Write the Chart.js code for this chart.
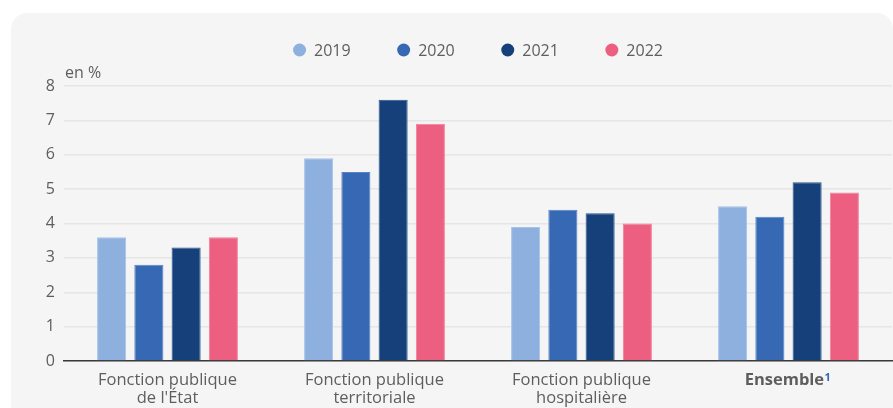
<!DOCTYPE html>
<html>
<head>
<meta charset="utf-8">
<script src="https://cdn.jsdelivr.net/npm/chart.js@4"></script>
<style>
  html, body { margin: 0; padding: 0; background: #ffffff; }
  #wrap { width: 893px; height: 408px; }
</style>
</head>
<body>
<div id="wrap"><canvas id="canvasTaux"></canvas></div>
<script>
// données (en %)
const categories = [
    ['Fonction publique', "de l'État"],
    ['Fonction publique', 'territoriale'],
    ['Fonction publique', 'hospitalière'],
    'Ensemble\u00B9'
];
const annees = ['2019', '2020', '2021', '2022'];
const valeurs2019 = [3.6, 5.9, 3.9, 4.5];
const valeurs2020 = [2.8, 5.5, 4.4, 4.2];
const valeurs2021 = [3.3, 7.6, 4.3, 5.2];
const valeurs2022 = [3.6, 6.9, 4.0, 4.9];
const yTicks = [0, 1, 2, 3, 4, 5, 6, 7, 8];

const couleurs = ['#8eb0df', '#3768b3', '#15407a', '#ec5f80'];
const bordures = ['#a6c2e8', '#5483c6', '#2a5590', '#f27f99'];
const police = "'Open Sans', 'Noto Sans', sans-serif";
const gris = '#5e5e5e';
const SUP = '\u00B9';
const ESPACE_NOTE = '\u2002';

// fond gris arrondi
const fondPanneau = {
    id: 'fondPanneau',
    beforeDraw(chart) {
        const c = chart.ctx;
        c.save();
        c.fillStyle = '#ffffff';
        c.fillRect(0, 0, chart.width, chart.height);
        c.fillStyle = '#f5f5f5';
        c.beginPath();
        c.roundRect(11, 13, chart.width - 11, chart.height + 40, 16);
        c.fill();
        c.restore();
    }
};

// légende à pastilles + "en %" + appel de note en bleu
const legendeEtUnite = {
    id: 'legendeEtUnite',
    afterDraw(chart) {
        const c = chart.ctx;
        const area = chart.chartArea;
        c.save();
        c.font = '16px ' + police;
        c.fillStyle = gris;
        c.textBaseline = 'alphabetic';
        c.fillText('en %', area.left + 1, 78);

        const items = chart.data.datasets.map(function (ds) {
            return { texte: ds.label, couleur: ds.backgroundColor, w: 13 + 8 + c.measureText(ds.label).width };
        });
        const espace = 46.5;
        let total = -espace;
        items.forEach(function (it) { total += it.w + espace; });
        let x = (area.left + area.right) / 2 - total / 2;
        const y = 50;
        items.forEach(function (it) {
            c.fillStyle = it.couleur;
            c.beginPath();
            c.arc(x + 6.5, y, 6.5, 0, Math.PI * 2);
            c.fill();
            c.fillStyle = gris;
            c.textBaseline = 'middle';
            c.fillText(it.texte, x + 21, y + 1);
            x += it.w + espace;
        });

        // note ¹ après les libellés qui en ont une
        const sx = chart.scales.x;
        categories.forEach(function (cat, i) {
            if (typeof cat === 'string' && cat.endsWith(SUP)) {
                const base = cat.slice(0, -1);
                c.font = 'bold 16.5px ' + police;
                const wBase = c.measureText(base).width;
                const wTout = c.measureText(base + ESPACE_NOTE).width;
                const px = sx.getPixelForTick(i);
                c.font = 'bold 11px ' + police;
                c.fillStyle = '#3768b3';
                c.textBaseline = 'top';
                c.textAlign = 'left';
                c.fillText('1', px - wTout / 2 + wBase + 0.5, 372);
            }
        });
        c.restore();
    }
};

const series = [valeurs2019, valeurs2020, valeurs2021, valeurs2022];

let grafTaux = document.getElementById('canvasTaux').getContext('2d');
let chart = new Chart(grafTaux, {
    type: 'bar',
    data: {
        labels: categories,
        datasets: series.map(function (vals, i) {
            return {
                label: annees[i],
                data: vals,
                backgroundColor: couleurs[i],
                borderColor: bordures[i],
                borderWidth: 1,
                categoryPercentage: 0.72,
                barPercentage: 0.78
            };
        })
    },
    options: {
        responsive: true,
        maintainAspectRatio: false,
        animation: false,
        layout: { padding: { top: 86, left: 0, right: 1, bottom: 0 } },
        plugins: {
            legend: { display: false },
            tooltip: { enabled: false }
        },
        scales: {
            x: {
                grid: { display: false, drawTicks: false },
                border: { display: true, color: '#3a3a3a', width: 1.5 },
                afterFit: function (scale) { scale.height = 47; },
                ticks: {
                    padding: 10,
                    color: gris,
                    callback: function (val, i) {
                        const lab = categories[i];
                        if (typeof lab === 'string' && lab.endsWith(SUP)) {
                            return lab.slice(0, -1) + ESPACE_NOTE;
                        }
                        return lab;
                    },
                    font: function (ctx) {
                        return {
                            family: police,
                            size: 16.5,
                            lineHeight: 1.12,
                            weight: ctx.index === 3 ? 'bold' : 'normal'
                        };
                    }
                }
            },
            y: {
                min: 0,
                max: 8,
                afterFit: function (scale) { scale.width = 64; },
                afterBuildTicks: function (scale) {
                    scale.ticks = yTicks.map(function (v) { return { value: v }; });
                },
                grid: { color: '#e6e6e6', lineWidth: 1.5, drawTicks: false },
                border: { display: false },
                ticks: {
                    padding: 9,
                    color: gris,
                    font: { family: police, size: 16 }
                }
            }
        }
    },
    plugins: [fondPanneau, legendeEtUnite]
});
</script>
</body>
</html>
